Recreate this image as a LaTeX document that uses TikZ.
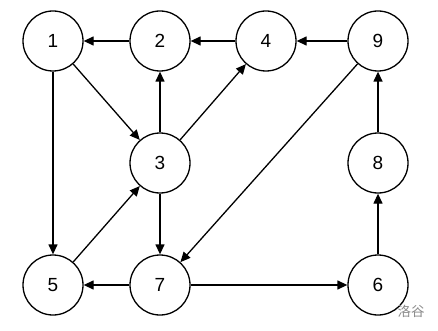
\documentclass[tikz,border=0pt]{standalone}
\usepackage{fontspec}
\setmainfont{Liberation Sans}
\newfontfamily\cjk{Noto Sans CJK SC}
\usetikzlibrary{arrows.meta}
\begin{document}
\begin{tikzpicture}[x=1pt,y=-1pt,
  vtx/.style={circle,draw,line width=1.3pt,minimum size=60pt,inner sep=0pt,font=\fontsize{19}{20}\selectfont},
  edge/.style={line width=1.3pt,-{Triangle[length=10pt,width=9pt]}}]
\useasboundingbox[fill=white] (0,0) rectangle (438,331);
\node[vtx] (n1) at (53,41) {1};
\node[vtx] (n2) at (160,41) {2};
\node[vtx] (n4) at (266,41) {4};
\node[vtx] (n9) at (378,41) {9};
\node[vtx] (n3) at (160,163) {3};
\node[vtx] (n8) at (378,163) {8};
\node[vtx] (n5) at (53,285) {5};
\node[vtx] (n7) at (160,285) {7};
\node[vtx] (n6) at (378,285) {6};
\draw[edge] (n2) -- (n1);
\draw[edge] (n4) -- (n2);
\draw[edge] (n9) -- (n4);
\draw[edge] (n1) -- (n3);
\draw[edge] (n3) -- (n2);
\draw[edge] (n3) -- (n4);
\draw[edge] (n1) -- (n5);
\draw[edge] (n5) -- (n3);
\draw[edge] (n3) -- (n7);
\draw[edge] (n9) -- (n7);
\draw[edge] (n7) -- (n5);
\draw[edge] (n7) -- (n6);
\draw[edge] (n6) -- (n8);
\draw[edge] (n8) -- (n9);
\node[text=black!45,font=\cjk\fontsize{13.5}{14}\selectfont,inner sep=0pt] (wm) at (411,311) {洛谷};
\end{tikzpicture}
\end{document}
